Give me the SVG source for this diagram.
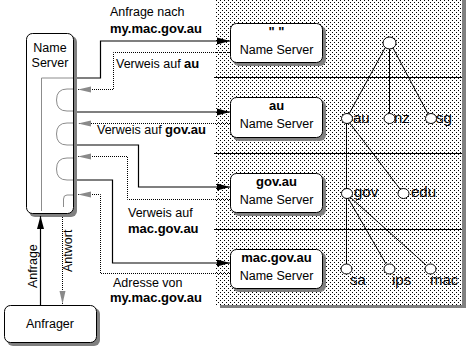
<svg xmlns="http://www.w3.org/2000/svg" width="469" height="348" viewBox="0 0 469 348">
<defs>
<pattern id="dots" x="0" y="0" width="4" height="4" patternUnits="userSpaceOnUse">
<rect x="0" y="0" width="1" height="1" fill="#000"/>
<rect x="2" y="2" width="1" height="1" fill="#000"/>
</pattern>
<marker id="solidR" markerUnits="userSpaceOnUse" markerWidth="14" markerHeight="9" refX="13" refY="4.5" orient="auto">
<path d="M0,1 L13,4.5 L0,8 z" fill="#000"/>
</marker>
<marker id="grayH" markerUnits="userSpaceOnUse" markerWidth="14" markerHeight="9" refX="13" refY="4.5" orient="auto">
<path d="M0,1.5 L13,4.5 L0,7.5 z" fill="#8a8a8a"/>
</marker>
</defs>
<style>
text{font-family:"Liberation Sans",Arial,sans-serif;font-size:12.5px;fill:#000}
.b{font-weight:bold;font-size:13px}
.t{font-size:15px}
.box{fill:#fff;stroke:#000;stroke-width:1}
.shadow{fill:#808080}
.solid{fill:none;stroke:#000;stroke-width:1.2}
.dot{fill:none;stroke:#000;stroke-width:1;stroke-dasharray:1 1}
.gray{fill:none;stroke:#8c8c8c;stroke-width:1}
.rule{stroke:#000;stroke-width:1}
.tree{stroke:#000;stroke-width:1;fill:none}
.node{fill:#fff;stroke:#000;stroke-width:1}
</style>

<g id="domain-area">
<rect x="462" y="0" width="4" height="308" class="shadow"/>
<rect x="220" y="305" width="246" height="3" class="shadow"/>
<rect x="216" y="0" width="246" height="305" fill="#fff"/>
<rect x="216" y="0" width="246" height="305" fill="url(#dots)"/>
<line x1="214" y1="77.5" x2="462" y2="77.5" class="rule"/>
<line x1="214" y1="153.5" x2="462" y2="153.5" class="rule"/>
<line x1="214" y1="229.5" x2="462" y2="229.5" class="rule"/>
</g>

<g id="tree">
<line x1="385" y1="48" x2="349" y2="114" class="tree"/>
<line x1="389.5" y1="49" x2="389.5" y2="113" class="tree" stroke-width="1.6"/>
<line x1="393" y1="48" x2="428" y2="114" class="tree"/>
<line x1="346.5" y1="123" x2="346.5" y2="264" class="tree"/>
<line x1="349" y1="122" x2="400" y2="189" class="tree"/>
<line x1="348" y1="198" x2="386" y2="264" class="tree"/>
<line x1="350" y1="197" x2="426" y2="265" class="tree"/>
<ellipse cx="389.5" cy="43" rx="6.5" ry="6" class="node"/>
<ellipse cx="347" cy="118.5" rx="5.5" ry="5" class="node"/>
<ellipse cx="389.5" cy="118.5" rx="5.5" ry="5" class="node"/>
<ellipse cx="431" cy="118.5" rx="5.5" ry="5" class="node"/>
<ellipse cx="347" cy="193.5" rx="5.5" ry="5" class="node"/>
<ellipse cx="403.5" cy="193.5" rx="5.5" ry="5" class="node"/>
<ellipse cx="346.5" cy="269" rx="5.5" ry="5" class="node"/>
<ellipse cx="389.5" cy="269" rx="5.5" ry="5" class="node"/>
<ellipse cx="430.5" cy="269" rx="5.5" ry="5" class="node"/>
<text x="353" y="123" class="t">au</text>
<text x="394" y="123" class="t">nz</text>
<text x="436" y="123" class="t">sg</text>
<text x="354" y="197" class="t">gov</text>
<text x="411" y="197" class="t">edu</text>
<text x="350" y="285" class="t">sa</text>
<text x="392" y="285" class="t">ips</text>
<text x="430" y="285" class="t">mac</text>
</g>

<g id="ns-root">
<rect x="233" y="26" width="93" height="40" rx="6" class="shadow"/>
<rect x="230.5" y="23.5" width="92" height="39" rx="6" class="box"/>
<text x="276.5" y="36" text-anchor="middle" class="b">" "</text>
<text x="276.5" y="54" text-anchor="middle">Name Server</text>
</g>
<g id="ns-au">
<rect x="233" y="100" width="93" height="41" rx="6" class="shadow"/>
<rect x="230.5" y="97.5" width="92" height="40" rx="6" class="box"/>
<text x="276.5" y="110" text-anchor="middle" class="b">au</text>
<text x="276.5" y="128" text-anchor="middle">Name Server</text>
</g>
<g id="ns-gov">
<rect x="233" y="176" width="93" height="40" rx="6" class="shadow"/>
<rect x="230.5" y="173.5" width="92" height="39" rx="6" class="box"/>
<text x="276.5" y="186" text-anchor="middle" class="b">gov.au</text>
<text x="276.5" y="204" text-anchor="middle">Name Server</text>
</g>
<g id="ns-mac">
<rect x="233" y="252" width="93" height="40" rx="6" class="shadow"/>
<rect x="230.5" y="249.5" width="92" height="39" rx="6" class="box"/>
<text x="276.5" y="262" text-anchor="middle" class="b">mac.gov.au</text>
<text x="276.5" y="280" text-anchor="middle">Name Server</text>
</g>

<g id="local-ns">
<rect x="29" y="36" width="48" height="181" rx="6" class="shadow"/>
<rect x="26.5" y="33.5" width="47" height="180" rx="6" class="box"/>
<text x="50" y="52" text-anchor="middle">Name</text>
<text x="50" y="67" text-anchor="middle">Server</text>
<path d="M73,78 H41.5 V211" class="gray"/>
<path d="M73,89 H67 Q56.5,89 56.5,100 Q56.5,111 67,111 H73" class="gray"/>
<path d="M73,123 H67 Q56.5,123 56.5,134 Q56.5,145 67,145 H73" class="gray"/>
<path d="M73,158 H67 Q56.5,158 56.5,169 Q56.5,180 67,180 H73" class="gray"/>
<path d="M73,195 H67 Q63.5,195 63.5,199 V207" class="gray"/>
</g>

<g id="anfrager">
<rect x="7" y="308" width="93" height="38" rx="6" class="shadow"/>
<rect x="4.5" y="305.5" width="92" height="37" rx="6" class="box"/>
<text x="50" y="328" text-anchor="middle" font-size="15">Anfrager</text>
</g>

<g id="connectors">
<path d="M77,78 H100.5 V41 H230" class="solid" marker-end="url(#solidR)"/>
<path d="M230,52.5 H113.5 V89.5 H78" class="dot" marker-end="url(#grayH)"/>
<path d="M77,112 H230" class="solid" marker-end="url(#solidR)"/>
<path d="M230,123.5 H78" class="dot" marker-end="url(#grayH)"/>
<path d="M77,145 H138.5 V187 H230" class="solid" marker-end="url(#solidR)"/>
<path d="M230,199.5 H127.5 V156.5 H78" class="dot" marker-end="url(#grayH)"/>
<path d="M77,180 H112.5 V263 H230" class="solid" marker-end="url(#solidR)"/>
<path d="M230,273.5 H100.5 V194.5 H78" class="dot" marker-end="url(#grayH)"/>
<path d="M40.5,305 V216" class="solid" marker-end="url(#solidR)"/>
<path d="M62.5,217 V304" class="dot" marker-end="url(#grayH)"/>
</g>

<g id="labels">
<text x="110" y="16">Anfrage nach</text>
<text x="110" y="33" class="b">my.mac.gov.au</text>
<text x="116" y="68">Verweis auf <tspan class="b">au</tspan></text>
<text x="97" y="134">Verweis auf <tspan class="b">gov.au</tspan></text>
<text x="128" y="217">Verweis auf</text>
<text x="128" y="233" class="b">mac.gov.au</text>
<text x="113" y="287">Adresse von</text>
<text x="110" y="302" class="b">my.mac.gov.au</text>
<text transform="translate(37,288) rotate(-90)">Anfrage</text>
<text transform="translate(72,272) rotate(-90)">Antwort</text>
</g>
</svg>
